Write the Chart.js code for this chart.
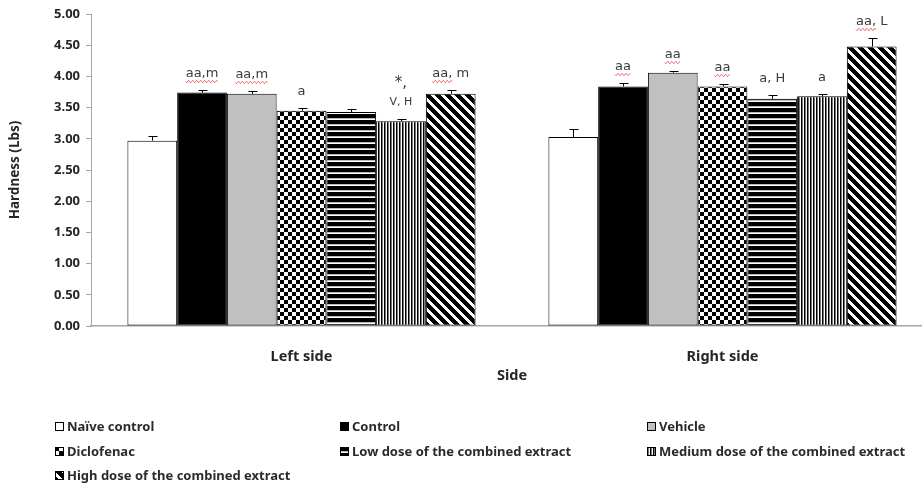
<!DOCTYPE html>
<html><head><meta charset="utf-8">
<script src="https://cdn.jsdelivr.net/npm/chart.js@4.4.1/dist/chart.umd.min.js"></script>
<style>
html,body{margin:0;padding:0;background:#fff;overflow:hidden;width:922px;height:486px}
#wrap{position:absolute;left:0;top:0;width:940px;height:400px}
#legend{position:absolute;left:0;top:0;width:922px;height:486px;font:bold 13px "Noto Sans", sans-serif;color:#2b2b2b}
.item{position:absolute;display:flex;align-items:center;height:16px;white-space:nowrap}
.item canvas{width:9px;height:9px;margin-right:3px}
</style></head>
<body>
<div id="wrap"><canvas id="c" width="940" height="400"></canvas></div>
<div id="legend"></div>
<script>
// ---------- data ----------
const categories = ['Left side', 'Right side'];
const groupNames = ['Naïve control', 'Control', 'Vehicle', 'Diclofenac',
  'Low dose of the combined extract', 'Medium dose of the combined extract',
  'High dose of the combined extract'];

const naiveValues      = [2.97, 3.03];
const controlValues    = [3.74, 3.84];
const vehicleValues    = [3.72, 4.06];
const diclofenacValues = [3.45, 3.84];
const lowValues        = [3.43, 3.64];
const mediumValues     = [3.28, 3.68];
const highValues       = [3.72, 4.48];

const naiveErrors      = [0.08, 0.12];
const controlErrors    = [0.05, 0.05];
const vehicleErrors    = [0.04, 0.02];
const diclofenacErrors = [0.05, 0.04];
const lowErrors        = [0.04, 0.06];
const mediumErrors     = [0.04, 0.04];
const highErrors       = [0.06, 0.13];

const naiveMarks      = ['', ''];
const controlMarks    = ['aa,m', 'aa'];
const vehicleMarks    = ['aa,m', 'aa'];
const diclofenacMarks = ['a', 'aa'];
const lowMarks        = ['', 'a, H'];
const mediumMarks     = ['*,\nV, H', 'a'];
const highMarks       = ['aa, m', 'aa, L'];

const yMin = 0, yMax = 5, yStep = 0.5;
const yTitle = 'Hardness (Lbs)';
const xTitle = 'Side';

const FONT = '"Noto Sans", sans-serif';

// ---------- patterns ----------
function makeTile(w, h, draw) {
  const c = document.createElement('canvas'); c.width = w; c.height = h;
  const g = c.getContext('2d'); g.fillStyle = '#fff'; g.fillRect(0, 0, w, h);
  g.fillStyle = '#000'; draw(g, w, h); return c;
}
const tiles = {
  checker: makeTile(8, 8, g => { g.fillRect(0, 0, 4, 4); g.fillRect(4, 4, 4, 4); }),
  horiz: makeTile(6, 6, g => { g.fillRect(0, 0, 6, 4); g.fillStyle = '#bbb'; g.fillRect(0, 4, 6, 1); }),
  vert: makeTile(3, 3, g => { g.fillRect(0, 0, 1, 3); g.fillStyle = '#777'; g.fillRect(1, 0, 1, 3); }),
  diag: makeTile(10, 10, (g, w, h) => {
    const img = g.getImageData(0, 0, w, h);
    for (let y = 0; y < h; y++) for (let x = 0; x < w; x++) {
      const d = ((x - y) % 10 + 10) % 10;
      const k = (y * w + x) * 4;
      const v = d < 6 ? 0 : 255;
      img.data[k] = img.data[k + 1] = img.data[k + 2] = v; img.data[k + 3] = 255;
    }
    g.putImageData(img, 0, 0);
  })
};
const ctxMain = document.getElementById('c').getContext('2d');
const fills = [
  '#ffffff', '#000000', '#c0c0c0',
  ctxMain.createPattern(tiles.checker, 'repeat'),
  ctxMain.createPattern(tiles.horiz, 'repeat'),
  ctxMain.createPattern(tiles.vert, 'repeat'),
  ctxMain.createPattern(tiles.diag, 'repeat')
];

const seriesValues = [naiveValues, controlValues, vehicleValues, diclofenacValues, lowValues, mediumValues, highValues];
const seriesErrors = [naiveErrors, controlErrors, vehicleErrors, diclofenacErrors, lowErrors, mediumErrors, highErrors];
const seriesMarks  = [naiveMarks, controlMarks, vehicleMarks, diclofenacMarks, lowMarks, mediumMarks, highMarks];

const datasets = groupNames.map((name, i) => ({
  label: name,
  data: seriesValues[i],
  errors: seriesErrors[i],
  marks: seriesMarks[i],
  backgroundColor: fills[i],
  borderColor: '#000',
  borderWidth: 1,
  borderSkipped: false,
  categoryPercentage: 0.827,
  barPercentage: 1.0
}));

// ---------- plugins ----------
function wavy(ctx, x0, x1, y) {
  ctx.save(); ctx.strokeStyle = '#e85a5a'; ctx.lineWidth = 1;
  ctx.beginPath(); ctx.moveTo(x0, y);
  for (let x = x0; x <= x1; x += 1) ctx.lineTo(x, y + 1.2 * Math.sin((x - x0) * Math.PI / 2));
  ctx.stroke(); ctx.restore();
}
const errorBarPlugin = {
  id: 'errorBars',
  afterDatasetsDraw(chart) {
    const ctx = chart.ctx, ys = chart.scales.y;
    chart.data.datasets.forEach((ds, i) => {
      const meta = chart.getDatasetMeta(i);
      meta.data.forEach((bar, j) => {
        const v = ds.data[j], e = ds.errors[j];
        const yv = ys.getPixelForValue(v);
        const yt = Math.round(ys.getPixelForValue(v + e)) + 0.5;
        const x = Math.round(bar.x) + 0.5;
        ctx.save();
        ctx.strokeStyle = '#000'; ctx.lineWidth = 1;
        ctx.beginPath();
        ctx.moveTo(x, yv); ctx.lineTo(x, yt);
        ctx.moveTo(x - 4, yt); ctx.lineTo(x + 5, yt);
        ctx.stroke();
        // significance marks
        const mark = ds.marks[j];
        if (mark) {
          const lines = mark.split('\n');
          ctx.fillStyle = '#3a3a3a';
          ctx.textAlign = 'left'; ctx.textBaseline = 'middle';
          let cy = yt - 17;
          for (let k = lines.length - 1; k >= 0; k--) {
            const txt = lines[k];
            const size = lines.length > 1 ? (k === 0 ? 15 : 11) : 13;
            ctx.font = size + 'px "DejaVu Sans", sans-serif';
            const w = ctx.measureText(txt).width;
            const x0 = bar.x - w / 2;
            ctx.fillText(txt, x0, cy);
            if (/^aa/.test(txt)) {
              const first = txt.split(' ')[0];
              const fw = ctx.measureText(first).width;
              wavy(ctx, x0, x0 + fw, cy + 8);
            }
            cy -= 19;
          }
        }
        ctx.restore();
      });
    });
  }
};

// ---------- chart ----------
new Chart(document.getElementById('c'), {
  type: 'bar',
  data: { labels: categories, datasets },
  options: {
    responsive: false,
    animation: false,
    layout: { padding: { top: 14, right: 7, bottom: 15, left: 0 } },
    plugins: { legend: { display: false }, tooltip: { enabled: false } },
    scales: {
      x: {
        grid: { display: false },
        border: { display: true, color: '#a6a6a6', width: 1.5 },
        ticks: { color: '#262626', padding: 14, font: { family: FONT, weight: 'bold', size: 14.5 } },
        title: { display: true, text: xTitle, color: '#262626', padding: 0,
          font: { family: FONT, weight: 'bold', size: 14.5 } },
        afterFit(s) { s.height = 59; }
      },
      y: {
        min: yMin, max: yMax,
        grid: { display: true, drawOnChartArea: false, drawTicks: true, tickLength: 5, color: '#a6a6a6' },
        border: { display: true, color: '#a6a6a6', width: 1 },
        ticks: { stepSize: yStep, padding: 6, color: '#262626',
          font: { family: FONT, weight: 'bold', size: 13 },
          callback: v => Number(v).toFixed(2) },
        title: { display: true, text: yTitle, color: '#262626', padding: { top: 7, bottom: 0 },
          font: { family: FONT, weight: 'bold', size: 13.5 } },
        afterFit(s) { s.width = 91; }
      }
    }
  },
  plugins: [errorBarPlugin]
});

// ---------- legend (HTML) ----------
const legendCols = [55, 340, 647];
const legendRows = [426, 451, 475];
const legend = document.getElementById('legend');
groupNames.forEach((name, i) => {
  const item = document.createElement('div');
  item.className = 'item';
  item.style.left = legendCols[i % 3] + 'px';
  item.style.top = (legendRows[Math.floor(i / 3)] - 8) + 'px';
  const sw = document.createElement('canvas'); sw.width = 9; sw.height = 9;
  const g = sw.getContext('2d');
  const f = fills[i];
  if (typeof f === 'string') g.fillStyle = f;
  else g.fillStyle = g.createPattern([null, null, null, tiles.checker, tiles.horiz, tiles.vert, tiles.diag][i], 'repeat');
  g.fillRect(0, 0, 9, 9);
  g.strokeStyle = '#000'; g.lineWidth = 1; g.strokeRect(0.5, 0.5, 8, 8);
  const span = document.createElement('span'); span.textContent = name;
  item.appendChild(sw); item.appendChild(span);
  legend.appendChild(item);
});
</script>
</body></html>
